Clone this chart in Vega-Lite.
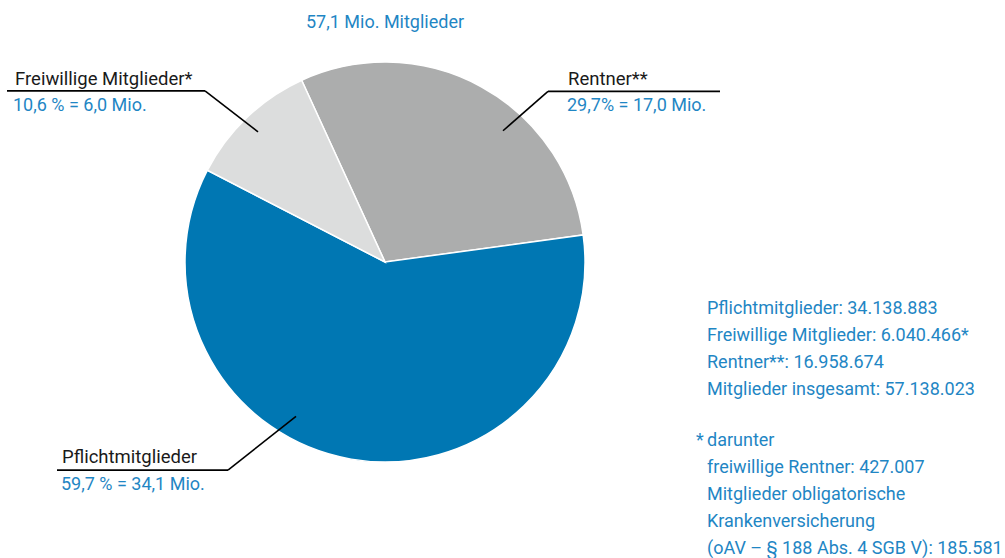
{
  "$schema": "https://vega.github.io/schema/vega-lite/v6.json",
  "width": 1005,
  "height": 558,
  "padding": 0,
  "autosize": {"type": "fit", "contains": "padding"},
  "background": "white",
  "config": {"view": {"stroke": null}},
  "datasets": {
    "slices": [
      {"group": "Rentner**", "members": 16958674, "ord": 1, "cx": 385, "cy": 262.5},
      {"group": "Pflichtmitglieder", "members": 34138883, "ord": 2, "cx": 385, "cy": 262.5},
      {"group": "Freiwillige Mitglieder*", "members": 6040466, "ord": 3, "cx": 385, "cy": 262.5}
    ],
    "segments": [
      {"x": 7, "y": 91, "x2": 205, "y2": 91},
      {"x": 205, "y": 91, "x2": 258, "y2": 132},
      {"x": 548, "y": 91.5, "x2": 720, "y2": 91.5},
      {"x": 548, "y": 91.5, "x2": 503, "y2": 131},
      {"x": 57, "y": 471, "x2": 228, "y2": 471},
      {"x": 228, "y": 471, "x2": 296, "y2": 417}
    ],
    "dark": [
      {"x": 15, "y": 85, "text": "Freiwillige Mitglieder*"},
      {"x": 568, "y": 85, "text": "Rentner**"},
      {"x": 62, "y": 464, "text": "Pflichtmitglieder"}
    ],
    "blue": [
      {"x": 13, "y": 111, "text": "10,6 % = 6,0 Mio."},
      {"x": 567, "y": 111, "text": "29,7% = 17,0 Mio."},
      {"x": 61, "y": 491, "text": "59,7 % = 34,1 Mio."},
      {"x": 707, "y": 315, "text": "Pflichtmitglieder: 34.138.883"},
      {"x": 707, "y": 342, "text": "Freiwillige Mitglieder: 6.040.466*"},
      {"x": 707, "y": 369, "text": "Rentner**: 16.958.674"},
      {"x": 707, "y": 396, "text": "Mitglieder insgesamt: 57.138.023"},
      {"x": 696, "y": 447, "text": "*"},
      {"x": 707, "y": 447, "text": "darunter"},
      {"x": 707, "y": 474, "text": "freiwillige Rentner: 427.007"},
      {"x": 707, "y": 501, "text": "Mitglieder obligatorische"},
      {"x": 707, "y": 528, "text": "Krankenversicherung"},
      {"x": 707, "y": 555, "text": "(oAV – § 188 Abs. 4 SGB V): 185.581"}
    ],
    "title": [
      {"x": 385, "y": 28, "text": "57,1 Mio. Mitglieder"}
    ]
  },
  "layer": [
    {
      "data": {"name": "slices"},
      "mark": {"type": "arc", "outerRadius": 200, "stroke": "white", "strokeWidth": 1.5},
      "encoding": {
        "x": {"field": "cx", "type": "quantitative", "scale": {"domain": [0, 1005], "nice": false, "zero": false}, "axis": null},
        "y": {"field": "cy", "type": "quantitative", "scale": {"domain": [0, 558], "nice": false, "zero": false, "reverse": true}, "axis": null},
        "theta": {"field": "members", "type": "quantitative", "stack": true, "scale": {"range": [-0.43, 5.8532]}},
        "order": {"field": "ord", "type": "quantitative"},
        "color": {"field": "group", "type": "nominal", "legend": null,
          "scale": {"domain": ["Rentner**", "Pflichtmitglieder", "Freiwillige Mitglieder*"], "range": ["#acadad", "#0077b3", "#dcdddd"]}}
      }
    },
    {
      "data": {"name": "segments"},
      "mark": {"type": "rule", "color": "#000000", "strokeWidth": 1.6},
      "encoding": {
        "x": {"field": "x", "type": "quantitative", "axis": null},
        "y": {"field": "y", "type": "quantitative", "axis": null},
        "x2": {"field": "x2"},
        "y2": {"field": "y2"}
      }
    },
    {
      "data": {"name": "dark"},
      "mark": {"type": "text", "align": "left", "baseline": "alphabetic", "font": "Roboto", "fontSize": 18.5, "color": "#1a1a1a"},
      "encoding": {
        "x": {"field": "x", "type": "quantitative", "axis": null},
        "y": {"field": "y", "type": "quantitative", "axis": null},
        "text": {"field": "text"}
      }
    },
    {
      "data": {"name": "blue"},
      "mark": {"type": "text", "align": "left", "baseline": "alphabetic", "font": "Roboto", "fontSize": 18, "color": "#1f86c4"},
      "encoding": {
        "x": {"field": "x", "type": "quantitative", "axis": null},
        "y": {"field": "y", "type": "quantitative", "axis": null},
        "text": {"field": "text"}
      }
    },
    {
      "data": {"name": "title"},
      "mark": {"type": "text", "align": "center", "baseline": "alphabetic", "font": "Roboto", "fontSize": 18, "color": "#1f86c4"},
      "encoding": {
        "x": {"field": "x", "type": "quantitative", "axis": null},
        "y": {"field": "y", "type": "quantitative", "axis": null},
        "text": {"field": "text"}
      }
    }
  ]
}
